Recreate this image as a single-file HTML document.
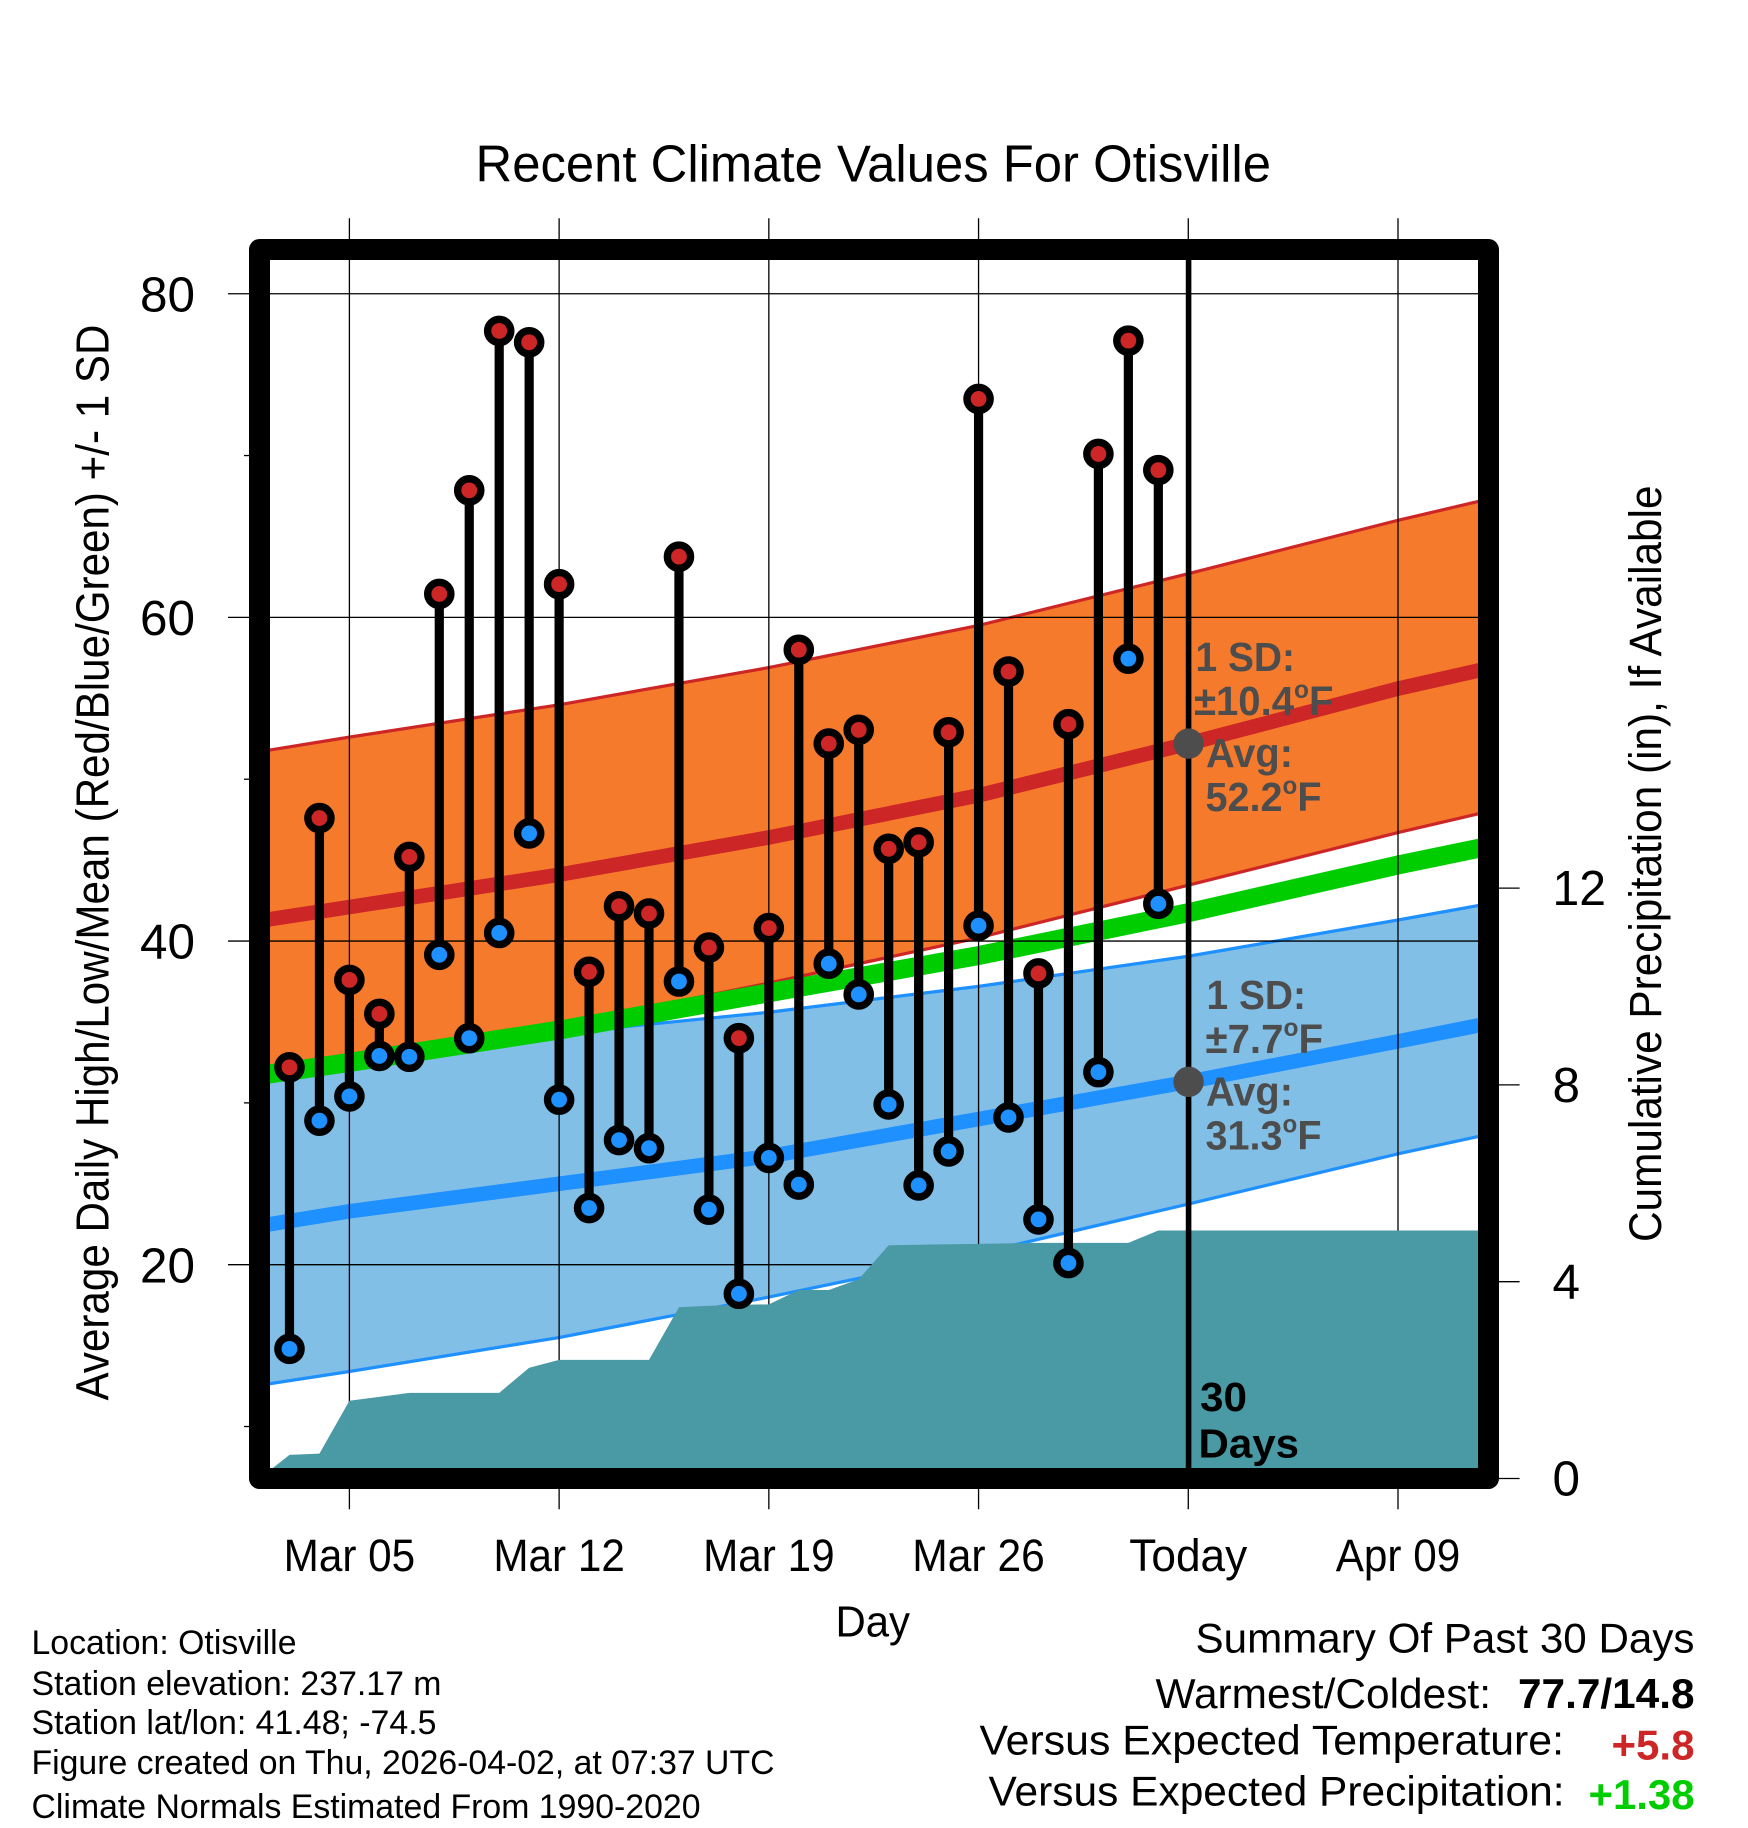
<!DOCTYPE html>
<html lang="en">
<head>
<meta charset="utf-8">
<title>Recent Climate Values For Otisville</title>
<style>
html,body{margin:0;padding:0;background:#fff;}
svg{display:block;}
text{font-family:"Liberation Sans",sans-serif;fill:#000;}
.anno{font-weight:bold;fill:#4d4d4d;font-size:41px;}
.foot{font-size:34.5px;}
.sum{font-size:42px;}
.tick{font-size:49.5px;}
.xt{font-size:45px;}
</style>
</head>
<body>
<svg id="chart" width="1748" height="1828" viewBox="0 0 1748 1828" xmlns="http://www.w3.org/2000/svg">
<defs><clipPath id="plot-clip"><rect x="259.5" y="249.5" width="1229" height="1229"/></clipPath></defs>
<rect x="0" y="0" width="1748" height="1828" fill="#fff"/>
<g id="plot-layer"></g>

<text x="475.5" y="181.7" font-size="52" textLength="795.5" lengthAdjust="spacingAndGlyphs">Recent Climate Values For Otisville</text>

<text transform="translate(108.3,1400.5) rotate(-90)" font-size="46" textLength="1076" lengthAdjust="spacingAndGlyphs">Average Daily High/Low/Mean (Red/Blue/Green) +/- 1 SD</text>
<text transform="translate(1660.8,1242) rotate(-90)" font-size="45" textLength="756.5" lengthAdjust="spacingAndGlyphs">Cumulative Precipitation (in), If Available</text>
<text x="835.5" y="1636.7" font-size="43.5" textLength="74.5" lengthAdjust="spacingAndGlyphs">Day</text>

<text class="anno" x="1195.5" y="670.8" textLength="99.5" lengthAdjust="spacingAndGlyphs">1 SD:</text>
<text class="anno" x="1194" y="714.8" textLength="139.5" lengthAdjust="spacingAndGlyphs">±10.4<tspan font-size="25" dy="-17">o</tspan><tspan dy="17">F</tspan></text>
<text class="anno" x="1206" y="767" textLength="87" lengthAdjust="spacingAndGlyphs">Avg:</text>
<text class="anno" x="1205.5" y="810.8" textLength="116" lengthAdjust="spacingAndGlyphs">52.2<tspan font-size="25" dy="-17">o</tspan><tspan dy="17">F</tspan></text>
<text class="anno" x="1206.5" y="1009.2" textLength="99.5" lengthAdjust="spacingAndGlyphs">1 SD:</text>
<text class="anno" x="1205.5" y="1052.8" textLength="117.5" lengthAdjust="spacingAndGlyphs">±7.7<tspan font-size="25" dy="-17">o</tspan><tspan dy="17">F</tspan></text>
<text class="anno" x="1206" y="1105.5" textLength="87" lengthAdjust="spacingAndGlyphs">Avg:</text>
<text class="anno" x="1205.5" y="1149.3" textLength="116" lengthAdjust="spacingAndGlyphs">31.3<tspan font-size="25" dy="-17">o</tspan><tspan dy="17">F</tspan></text>

<text x="1200" y="1411" font-size="41" font-weight="bold" textLength="47" lengthAdjust="spacingAndGlyphs">30</text>
<text x="1198.5" y="1457.5" font-size="41" font-weight="bold" textLength="100.5" lengthAdjust="spacingAndGlyphs">Days</text>

<text class="foot" x="31.5" y="1654" textLength="265" lengthAdjust="spacingAndGlyphs">Location: Otisville</text>
<text class="foot" x="31.5" y="1694.8" textLength="410" lengthAdjust="spacingAndGlyphs">Station elevation: 237.17 m</text>
<text class="foot" x="31.5" y="1733.8" textLength="405" lengthAdjust="spacingAndGlyphs">Station lat/lon: 41.48; -74.5</text>
<text class="foot" x="31.5" y="1773.8" textLength="743" lengthAdjust="spacingAndGlyphs">Figure created on Thu, 2026-04-02, at 07:37 UTC</text>
<text class="foot" x="31.5" y="1818" textLength="669" lengthAdjust="spacingAndGlyphs">Climate Normals Estimated From 1990-2020</text>

<text class="sum" x="1195.5" y="1652.3" textLength="499" lengthAdjust="spacingAndGlyphs">Summary Of Past 30 Days</text>
<text class="sum" x="1155.5" y="1707.8" textLength="335.5" lengthAdjust="spacingAndGlyphs">Warmest/Coldest:</text>
<text class="sum" x="1518" y="1707.8" font-weight="bold" textLength="176.5" lengthAdjust="spacingAndGlyphs">77.7/14.8</text>
<text class="sum" x="979.5" y="1754.7" textLength="584.5" lengthAdjust="spacingAndGlyphs">Versus Expected Temperature:</text>
<text class="sum" x="1611.5" y="1759.4" font-weight="bold" style="fill:#cd2626" textLength="83" lengthAdjust="spacingAndGlyphs">+5.8</text>
<text class="sum" x="988.5" y="1805.5" textLength="576" lengthAdjust="spacingAndGlyphs">Versus Expected Precipitation:</text>
<text class="sum" x="1588.5" y="1808.8" font-weight="bold" style="fill:#00cd00" textLength="106" lengthAdjust="spacingAndGlyphs">+1.38</text>
</svg>

<script>
// Days are counted from Mar 05 (day 0).
const obsHigh = [32.2,47.6,37.6,35.5,45.2,61.45,67.85,77.7,77.0,62.05,38.1,42.15,41.7,63.75,39.6,34.0,40.8,58.0,52.2,53.05,45.7,46.1,52.9,73.5,56.65,38.0,53.4,70.1,77.1,69.1];
const obsLow = [14.8,28.9,30.4,32.9,32.85,39.15,34.0,40.5,46.65,30.2,23.5,27.7,27.2,37.5,23.4,18.2,26.6,24.95,38.6,36.7,29.9,24.9,27.0,40.95,29.1,22.8,20.1,31.9,57.45,42.3];
const obsFirstDay = -2;

const normalDays = [-3,0,7,14,21,28,35,38];
const highMean = [41.25,42.1,44.1,46.4,49.0,52.2,55.6,56.85];
const highUpper = [51.7,52.6,54.6,56.9,59.5,62.7,66.0,67.3];
const highLower = [31.8,33.0,34.8,37.4,40.2,43.45,46.7,48.0];
const normalMean = [31.7,32.5,34.5,36.8,39.1,41.75,44.7,45.85];
const lowMean = [22.4,23.3,25.0,26.7,29.0,31.3,33.8,34.9];
const lowUpper = [31.8,33.0,34.3,35.6,37.2,39.06,41.3,42.3];
const lowLower = [12.55,13.4,15.5,18.0,20.7,23.75,26.85,28.05];

const precipFirstDay = -3;
const precipDaily = [0,0.48,0.505,1.58,1.66,1.74,1.74,1.74,1.74,2.25,2.41,2.41,2.41,2.41,3.48,3.51,3.53,3.54,3.83,3.83,4.05,4.74,4.75,4.76,4.77,4.78,4.79,4.79,4.79,4.79,5.04,5.04];
const precipEndDay = 38;

const xTickDays = [0,7,14,21,28,35];
const xTickLabels = ["Mar 05","Mar 12","Mar 19","Mar 26","Today","Apr 09"];
const yTickValues = [20,40,60,80];
const yMinorValues = [10,30,50,70];
const rightTickValues = [0,4,8,12];
const todayDay = 28;
const todayAvgHigh = 52.2;
const todayAvgLow = 31.3;

function xScale(d){ return 349.4 + 29.96*d; }
function yScale(v){ return 1264.7 - (v-20)*16.183; }
function yPrecip(p){ return 1478.5 - p*49.2; }

const NS = "http://www.w3.org/2000/svg";
const layer = document.getElementById("plot-layer");
function make(tag, attrs, parent){
  const el = document.createElementNS(NS, tag);
  for (const k in attrs) el.setAttribute(k, attrs[k]);
  (parent || layer).appendChild(el);
  return el;
}
function linePts(days, vals){ return days.map((d,i)=>xScale(d).toFixed(2)+","+yScale(vals[i]).toFixed(2)).join(" "); }
function bandPts(days, up, lo){
  const a = days.map((d,i)=>xScale(d).toFixed(2)+","+yScale(up[i]).toFixed(2));
  const b = days.map((d,i)=>xScale(d).toFixed(2)+","+yScale(lo[i]).toFixed(2)).reverse();
  return a.concat(b).join(" ");
}

const plot = make("g", {"clip-path":"url(#plot-clip)"});



const highBand = make("polygon", {points:bandPts(normalDays,highUpper,highLower), fill:"#f67a2c"}, plot);


const highUp = make("polyline", {points:linePts(normalDays,highUpper), fill:"none", stroke:"#cd2626", "stroke-width":3.2}, plot);


const highLo = make("polyline", {points:linePts(normalDays,highLower), fill:"none", stroke:"#cd2626", "stroke-width":3.2}, plot);



const lowBand = make("polygon", {points:bandPts(normalDays,lowUpper,lowLower), fill:"#82bfe7"}, plot);


const lowUp = make("polyline", {points:linePts(normalDays,lowUpper), fill:"none", stroke:"#1e90ff", "stroke-width":3.2}, plot);


const lowLo = make("polyline", {points:linePts(normalDays,lowLower), fill:"none", stroke:"#1e90ff", "stroke-width":3.2}, plot);



const meanGreen = make("polyline", {points:linePts(normalDays,normalMean), fill:"none", stroke:"#00cd00", "stroke-width":19}, plot);


const meanHigh = make("polyline", {points:linePts(normalDays,highMean), fill:"none", stroke:"#cd2626", "stroke-width":14.6}, plot);


const meanLow = make("polyline", {points:linePts(normalDays,lowMean), fill:"none", stroke:"#1e90ff", "stroke-width":14.6}, plot);



// grid and ticks
xTickDays.forEach((d,i)=>{
  const g = make("line", {x1:xScale(d), x2:xScale(d), y1:218.3, y2:1509.3, stroke:"#000", "stroke-width":1.3});
  
  
});
yTickValues.forEach(v=>{
  const g = make("line", {x1:228, x2:1478, y1:yScale(v), y2:yScale(v), stroke:"#000", "stroke-width":1.3});
  
  
  const t = make("text", {x:140, y:yScale(v)+17.7, class:"tick", textLength:55, lengthAdjust:"spacingAndGlyphs"});
  t.textContent = String(v);
  
  
});
yMinorValues.forEach(v=>{
  const g = make("line", {x1:244, x2:250, y1:yScale(v), y2:yScale(v), stroke:"#000", "stroke-width":1.3});
  
  
});
rightTickValues.forEach(p=>{
  const g = make("line", {x1:1498, x2:1519.6, y1:yPrecip(p), y2:yPrecip(p), stroke:"#000", "stroke-width":1.3});
  
  
  const t = make("text", {x:1552.5, y:yPrecip(p)+17, class:"tick", textLength:(p>=10?53.5:27.5), lengthAdjust:"spacingAndGlyphs"});
  t.textContent = String(p);
  
  
});
xTickDays.forEach((d,i)=>{
  const widths = [131.5,131.5,131.5,132.5,118,124.5];
  const t = make("text", {x:xScale(d)-widths[i]/2, y:1571, class:"xt", textLength:widths[i], lengthAdjust:"spacingAndGlyphs"});
  t.textContent = xTickLabels[i];
  
  
});

// cumulative precipitation
const plot2 = make("g", {"clip-path":"url(#plot-clip)"});


let precipPts = [xScale(precipFirstDay).toFixed(2)+","+yPrecip(0)];
precipDaily.forEach((p,i)=>{ precipPts.push(xScale(precipFirstDay+i).toFixed(2)+","+yPrecip(p).toFixed(2)); });
precipPts.push(xScale(precipEndDay).toFixed(2)+","+yPrecip(precipDaily[precipDaily.length-1]).toFixed(2));
precipPts.push(xScale(precipEndDay).toFixed(2)+","+yPrecip(0));
const precip = make("polygon", {points:precipPts.join(" "), fill:"#4a9aa6"}, plot2);



// today marker line
const todayLine = make("line", {x1:xScale(todayDay)+0.3, x2:xScale(todayDay)+0.3, y1:250, y2:1478, stroke:"#000", "stroke-width":5.6});



// observed stems and markers
obsHigh.forEach((h,i)=>{
  const x = xScale(obsFirstDay+i);
  const s = make("line", {x1:x, x2:x, y1:yScale(h), y2:yScale(obsLow[i]), stroke:"#000", "stroke-width":9.2});
  
  
});
obsHigh.forEach((h,i)=>{
  const x = xScale(obsFirstDay+i);
  const a = make("circle", {cx:x, cy:yScale(h), r:11.6, fill:"#cd2626", stroke:"#000", "stroke-width":7.4});
  
  
  const b = make("circle", {cx:x, cy:yScale(obsLow[i]), r:11.6, fill:"#1e90ff", stroke:"#000", "stroke-width":7.4});
  
  
});

// today normal dots
const dotHigh = make("circle", {cx:xScale(todayDay)+0.3, cy:yScale(todayAvgHigh), r:15.2, fill:"#4d4d4d"});


const dotLow = make("circle", {cx:xScale(todayDay)+0.3, cy:yScale(todayAvgLow), r:15.2, fill:"#4d4d4d"});



// frame
const frame = make("rect", {x:259.5, y:249.5, width:1229, height:1229, fill:"none", stroke:"#000", "stroke-width":21, "stroke-linejoin":"round"});


</script>
</body>
</html>
